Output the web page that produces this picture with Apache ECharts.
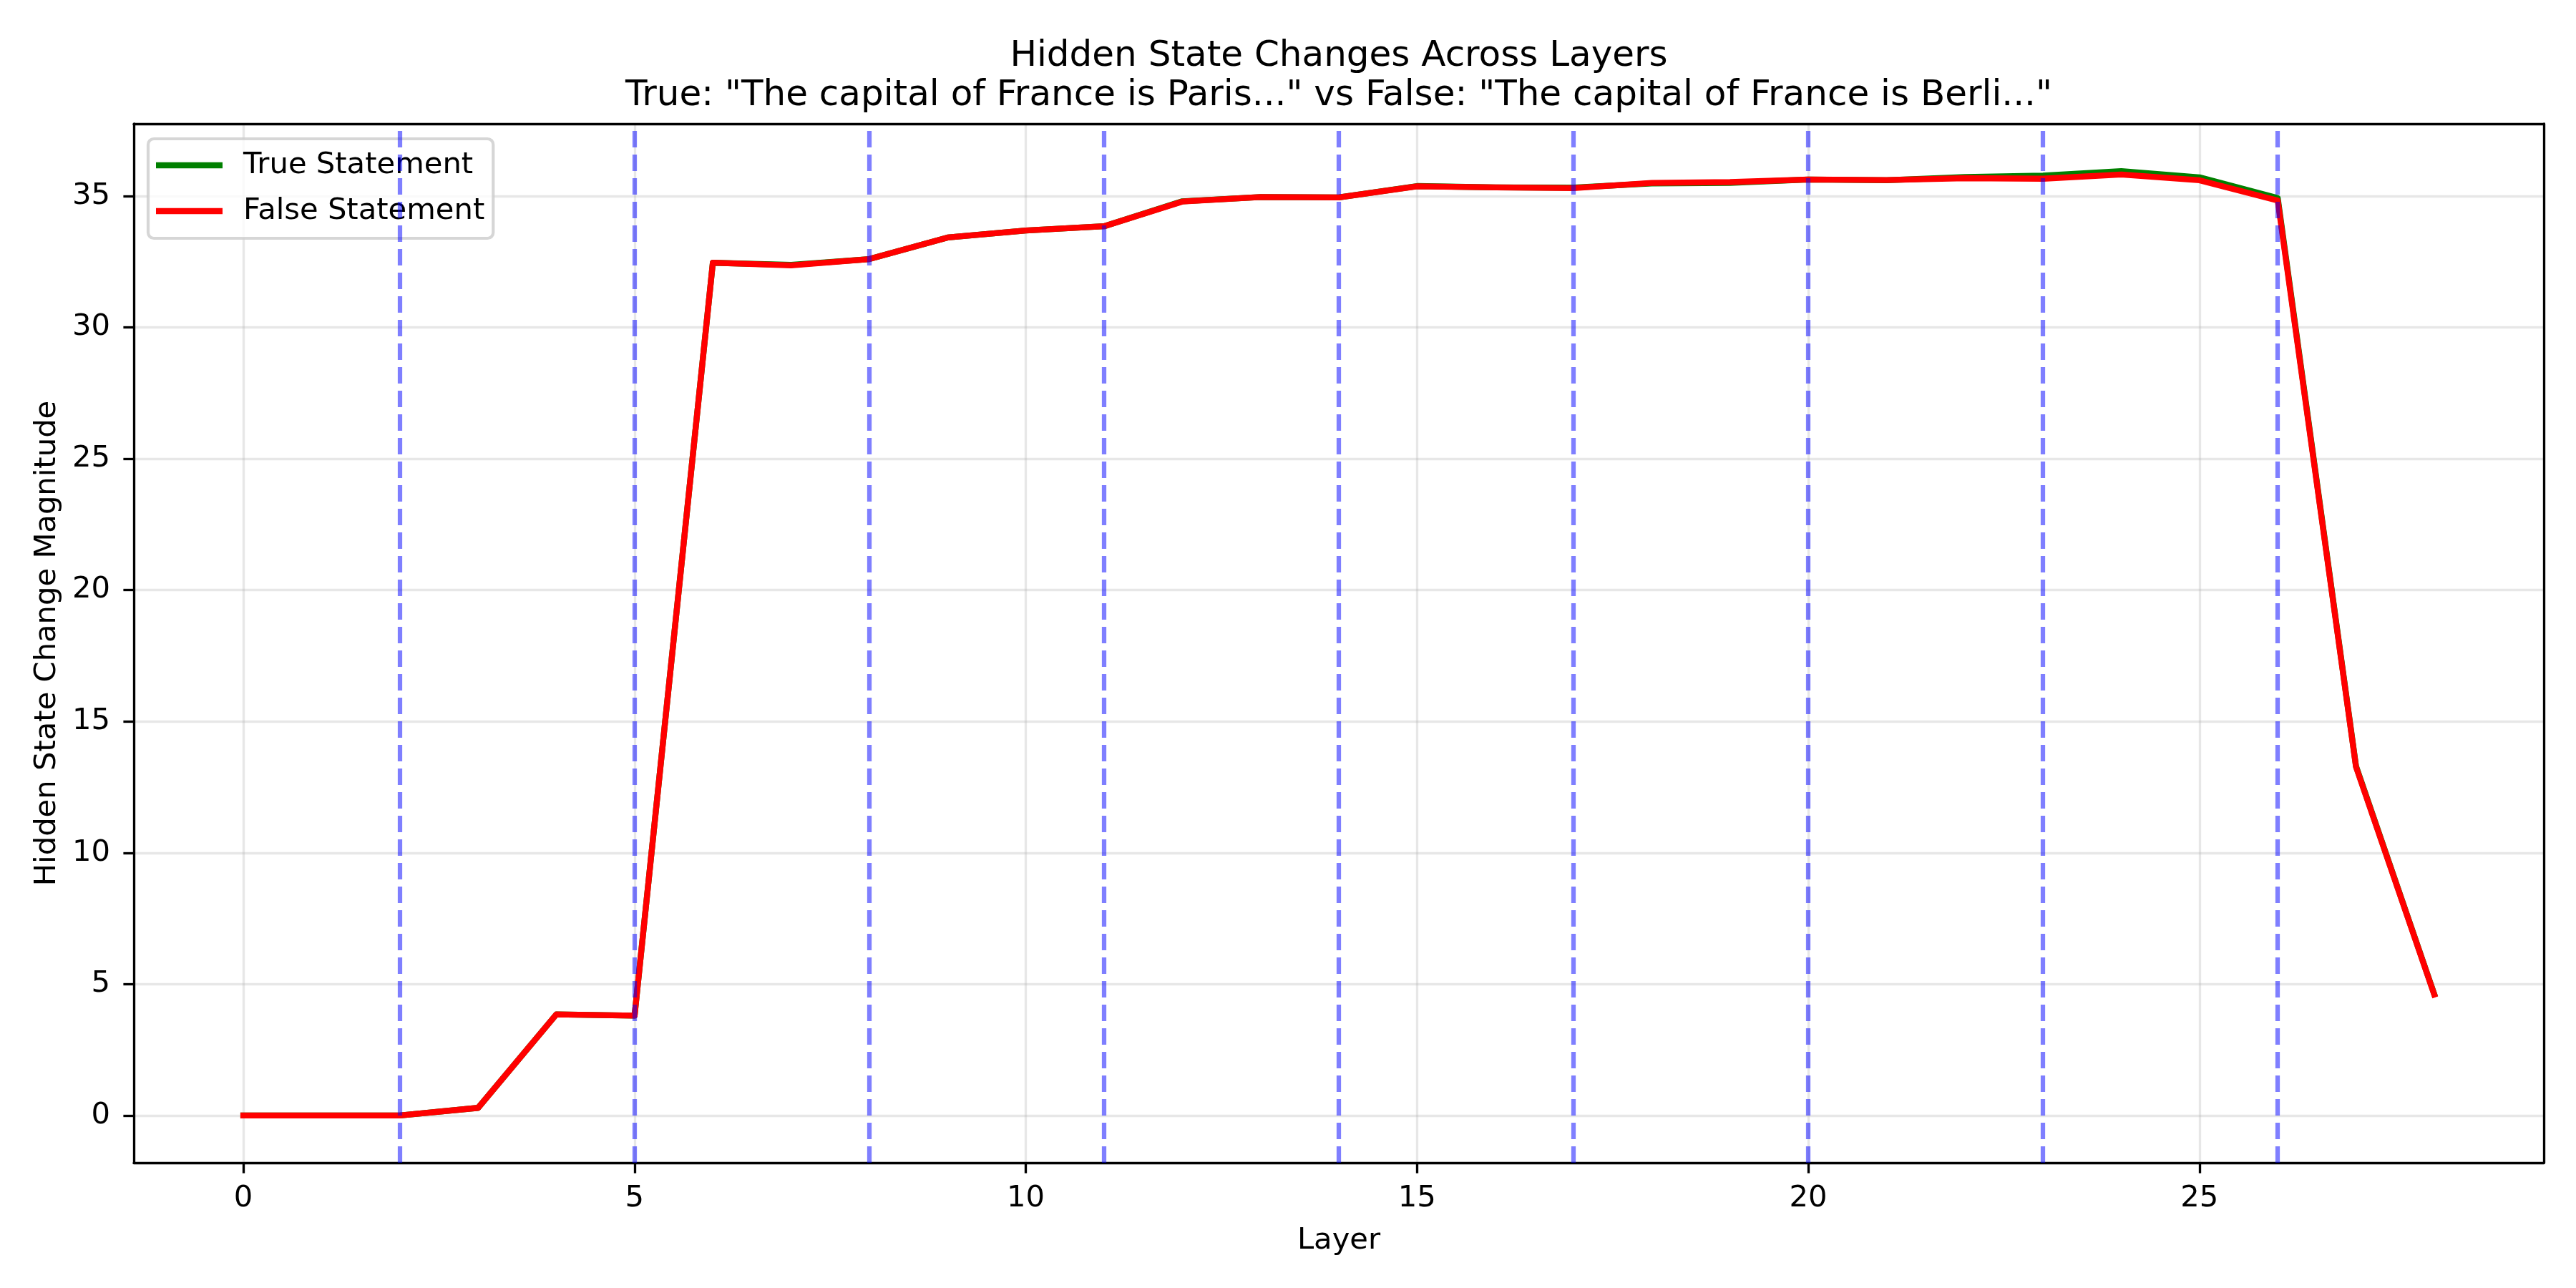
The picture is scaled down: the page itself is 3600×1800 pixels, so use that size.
<!DOCTYPE html>
<html>
    <head>
        <meta charset="utf-8" />
        <title>Hidden State Changes Across Layers</title>
        <script src="https://cdn.jsdelivr.net/npm/echarts@6.0.0/dist/echarts.min.js"></script>
        <style>
            html, body { margin: 0; padding: 0; background: #ffffff; }
        </style>
    </head>
    <body>
        <div id="main" style="width: 3600px;height: 1800px;"></div>
        <script type="text/javascript">
            const TRUE_NAME = 'True Statement';
            const FALSE_NAME = 'False Statement';

            const layers = [0, 1, 2, 3, 4, 5, 6, 7, 8, 9, 10, 11, 12, 13, 14, 15, 16, 17, 18, 19, 20, 21, 22, 23, 24, 25, 26, 27, 28];
            const trueValues = [0, 0, 0, 0.29, 3.85, 3.80, 32.46, 32.38, 32.60, 33.42, 33.69, 33.85, 34.80, 34.96, 34.95, 35.38, 35.33, 35.32, 35.48, 35.50, 35.63, 35.60, 35.72, 35.78, 35.95, 35.71, 34.92, 13.30, 4.62];
            const falseValues = [0, 0, 0, 0.29, 3.85, 3.80, 32.46, 32.36, 32.60, 33.42, 33.69, 33.85, 34.79, 34.96, 34.95, 35.37, 35.33, 35.30, 35.50, 35.53, 35.63, 35.61, 35.68, 35.66, 35.82, 35.60, 34.83, 13.27, 4.60];
            const markerLayers = [2, 5, 8, 11, 14, 17, 20, 23, 26];
            const xTicks = [0, 5, 10, 15, 20, 25];
            const yTicks = [0, 5, 10, 15, 20, 25, 30, 35];

            const FONT = 'DejaVu Sans';
            const FS = 41.7;
            const LW = 8.33;
            const SPINE = 3.33;

            const myChart = echarts.init(document.getElementById('main'));

            const toPairs = (values) => layers.map((x, i) => [x, values[i]]);

            const spine = { show: true, onZero: false, lineStyle: { color: '#000000', width: SPINE } };
            const grayGrid = { show: true, lineStyle: { color: 'rgba(176,176,176,0.3)', width: SPINE } };

            const option = {
                animation: false,
                backgroundColor: '#ffffff',
                title: {
                    text: 'Hidden State Changes Across Layers\nTrue: "The capital of France is Paris..." vs False: "The capital of France is Berli..."',
                    left: 1871,
                    top: 52,
                    textAlign: 'center',
                    padding: 0,
                    textStyle: {
                        fontFamily: FONT,
                        fontSize: 50,
                        fontWeight: 'normal',
                        color: '#000000',
                        lineHeight: 55
                    }
                },
                legend: {
                    orient: 'vertical',
                    left: 207,
                    top: 194,
                    padding: [16, 12, 17, 11],
                    itemGap: 22,
                    itemWidth: 93,
                    itemHeight: LW,
                    icon: 'rect',
                    backgroundColor: 'rgba(255,255,255,0.8)',
                    borderColor: 'rgba(204,204,204,0.8)',
                    borderWidth: 4.2,
                    borderRadius: 8,
                    data: [TRUE_NAME, FALSE_NAME],
                    textStyle: {
                        fontFamily: FONT,
                        fontSize: FS,
                        lineHeight: 42,
                        color: '#000000',
                        padding: [0, 0, 0, 24]
                    }
                },
                grid: {
                    left: 187,
                    right: 45,
                    top: 173,
                    bottom: 175,
                    containLabel: false
                },
                xAxis: [
                    {
                        type: 'value',
                        min: -1.4,
                        max: 29.4,
                        position: 'bottom',
                        name: 'Layer',
                        nameLocation: 'middle',
                        nameGap: 88,
                        nameTextStyle: { fontFamily: FONT, fontSize: FS, lineHeight: 42, color: '#000000' },
                        axisLine: spine,
                        axisTick: { show: true, length: 14.6, customValues: xTicks, lineStyle: { color: '#000000', width: SPINE } },
                        axisLabel: { show: true, margin: 29, customValues: xTicks, fontFamily: FONT, fontSize: FS, lineHeight: 42, color: '#000000' },
                        splitLine: grayGrid
                    },
                    {
                        type: 'value',
                        min: -1.4,
                        max: 29.4,
                        position: 'top',
                        axisLine: spine,
                        axisTick: { show: false },
                        axisLabel: { show: false },
                        splitLine: { show: false }
                    }
                ],
                yAxis: [
                    {
                        type: 'value',
                        min: -1.8,
                        max: 37.75,
                        position: 'left',
                        name: 'Hidden State Change Magnitude',
                        nameLocation: 'middle',
                        nameGap: 100,
                        nameRotate: 90,
                        nameTextStyle: { fontFamily: FONT, fontSize: FS, lineHeight: 42, color: '#000000' },
                        axisLine: spine,
                        axisTick: { show: true, length: 14.6, customValues: yTicks, lineStyle: { color: '#000000', width: SPINE } },
                        axisLabel: { show: true, margin: 33, customValues: yTicks, fontFamily: FONT, fontSize: FS, lineHeight: 42, color: '#000000' },
                        splitLine: grayGrid
                    },
                    {
                        type: 'value',
                        min: -1.8,
                        max: 37.75,
                        position: 'right',
                        axisLine: spine,
                        axisTick: { show: false },
                        axisLabel: { show: false },
                        splitLine: { show: false }
                    }
                ],
                series: [
                    {
                        name: TRUE_NAME,
                        type: 'line',
                        xAxisIndex: 0,
                        yAxisIndex: 0,
                        data: toPairs(trueValues),
                        symbol: 'none',
                        itemStyle: { color: '#008000' },
                        lineStyle: { color: '#008000', width: LW, cap: 'square', join: 'round' },
                        z: 3
                    },
                    {
                        name: FALSE_NAME,
                        type: 'line',
                        xAxisIndex: 0,
                        yAxisIndex: 0,
                        data: toPairs(falseValues),
                        symbol: 'none',
                        itemStyle: { color: '#ff0000' },
                        lineStyle: { color: '#ff0000', width: LW, cap: 'square', join: 'round' },
                        z: 4,
                        markLine: {
                            silent: true,
                            symbol: ['none', 'none'],
                            label: { show: false },
                            lineStyle: { color: 'rgba(0,0,255,0.5)', width: 6.25, type: [23, 10] },
                            data: markerLayers.map((v) => ({ xAxis: v }))
                        }
                    }
                ]
            };
            myChart.setOption(option);
        </script>
    </body>
</html>
